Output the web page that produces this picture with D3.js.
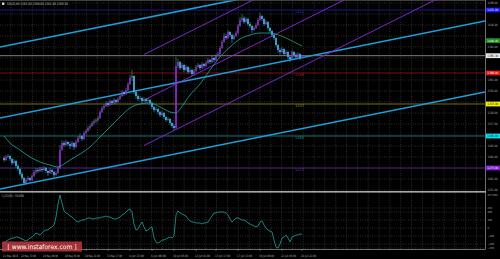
<!DOCTYPE html>
<html>
<head>
<meta charset="utf-8">
<script src="https://cdn.jsdelivr.net/npm/d3@7"></script>
<style>
  html, body { margin: 0; padding: 0; background: #000; }
  svg { display: block; font-family: "DejaVu Sans Condensed", "DejaVu Sans", sans-serif; }
</style>
</head>
<body>
<svg id="chart" width="500" height="259"></svg>
<script>
// H4 candles, [open, high, low, close]
const candles = [
  [1283,1285,1279,1281],[1281,1286,1280,1284],[1284,1287,1283,1285],[1285,1286,1280,1282],[1282,1283,1276,1278],
  [1278,1282,1277,1280],[1280,1281,1273,1275],[1275,1277,1270,1272],[1272,1273,1265,1267],[1267,1269,1261,1263],
  [1263,1264,1256,1258],[1258,1263,1257,1261],[1261,1265,1260,1263],[1263,1264,1259,1261],[1261,1267,1260,1265],
  [1265,1271,1264,1269],[1269,1273,1267,1271],[1271,1273,1268,1270],[1270,1274,1269,1272],[1272,1274,1269,1271],
  [1271,1275,1270,1273],[1273,1274,1268,1270],[1270,1271,1265,1268],[1268,1273,1267,1271],[1271,1272,1267,1269],
  [1269,1270,1264,1266],[1266,1270,1265,1268],[1268,1275,1267,1273],[1273,1296,1272,1291],[1291,1301,1290,1298],
  [1298,1300,1294,1296],[1296,1301,1295,1299],[1299,1300,1295,1297],[1297,1299,1292,1295],[1295,1300,1294,1298],
  [1298,1299,1291,1294],[1294,1301,1293,1299],[1299,1305,1298,1303],[1303,1308,1302,1305],[1305,1306,1300,1302],
  [1302,1310,1301,1308],[1308,1312,1306,1310],[1310,1315,1309,1313],[1313,1317,1311,1315],[1315,1320,1314,1318],
  [1318,1322,1316,1320],[1320,1323,1318,1321],[1321,1325,1319,1323],[1323,1331,1322,1329],[1329,1335,1328,1333],
  [1333,1337,1331,1335],[1335,1340,1334,1338],[1338,1339,1334,1336],[1336,1342,1335,1340],[1340,1341,1336,1338],
  [1338,1343,1337,1341],[1341,1342,1337,1339],[1339,1344,1338,1342],[1342,1347,1341,1345],[1345,1351,1344,1349],
  [1349,1350,1345,1347],[1347,1353,1346,1351],[1351,1359,1350,1357],[1357,1366,1356,1363],[1363,1371,1360,1365],
  [1365,1366,1347,1349],[1349,1351,1342,1345],[1345,1347,1340,1342],[1342,1345,1341,1343],[1343,1344,1338,1340],
  [1340,1344,1339,1342],[1342,1343,1338,1340],[1340,1343,1339,1341],[1341,1342,1336,1338],[1338,1339,1332,1334],
  [1334,1335,1329,1331],[1331,1334,1330,1332],[1332,1333,1327,1329],[1329,1330,1324,1326],[1326,1330,1325,1328],
  [1328,1329,1322,1324],[1324,1325,1319,1321],[1321,1324,1320,1322],[1322,1323,1316,1318],[1318,1319,1313,1315],
  [1315,1317,1311,1313],[1313,1384,1312,1375],[1375,1382,1373,1379],[1379,1380,1371,1373],[1373,1378,1372,1376],
  [1376,1377,1369,1371],[1371,1376,1370,1374],[1374,1375,1367,1369],[1369,1373,1368,1371],[1371,1372,1365,1367],
  [1367,1372,1366,1370],[1370,1376,1369,1374],[1374,1378,1373,1376],[1376,1377,1371,1373],[1373,1379,1372,1377],
  [1377,1378,1373,1375],[1375,1380,1374,1378],[1378,1383,1377,1381],[1381,1382,1377,1379],[1379,1385,1378,1383],
  [1383,1384,1379,1381],[1381,1387,1380,1385],[1385,1389,1384,1387],[1387,1395,1386,1393],[1393,1401,1392,1399],
  [1399,1408,1398,1405],[1405,1407,1401,1403],[1403,1411,1402,1409],[1409,1410,1404,1406],[1406,1407,1398,1402],
  [1402,1407,1401,1405],[1405,1410,1404,1408],[1408,1417,1407,1415],[1415,1424,1414,1421],[1421,1427,1419,1423],
  [1423,1425,1417,1419],[1419,1424,1418,1422],[1422,1423,1415,1417],[1417,1419,1413,1415],[1415,1416,1408,1411],
  [1411,1415,1410,1413],[1413,1418,1412,1416],[1416,1423,1415,1421],[1421,1428,1420,1425],[1425,1426,1420,1422],
  [1422,1423,1415,1417],[1417,1421,1416,1419],[1419,1420,1411,1413],[1413,1414,1408,1410],[1410,1411,1404,1406],
  [1406,1407,1401,1403],[1403,1404,1394,1396],[1396,1397,1388,1391],[1391,1393,1386,1389],[1389,1394,1388,1392],
  [1392,1393,1385,1387],[1387,1391,1386,1389],[1389,1390,1382,1384],[1384,1386,1379,1382],[1382,1391,1381,1389],
  [1389,1390,1384,1386],[1386,1388,1383,1384],[1384,1389,1383,1387],[1387,1388,1381,1383],[1383,1386,1382,1385.3]
];

// CCI(30), one value per candle
const cciValues = [
  -196,-163,-150,-138,-125,-125,-113,-113,-125,-138,-150,-163,-150,-125,-113,-88,-63,-75,-88,-63,
  -38,-25,-25,0,13,38,138,300,412,313,213,188,175,150,138,113,88,75,88,100,
  100,113,125,125,113,113,125,125,125,138,138,150,138,138,125,113,113,125,138,163,
  175,200,225,238,200,50,-25,-13,38,75,13,-38,-25,0,13,-125,-175,-188,-175,-150,
  -150,-138,-125,-113,-125,-100,163,213,188,175,163,150,113,88,75,75,63,63,63,50,
  63,63,75,113,150,188,188,200,200,200,200,188,163,113,75,100,125,125,113,100,
  100,88,63,50,38,25,13,25,75,88,38,0,-25,-38,-50,-150,-238,-250,-200,-125,
  -113,-88,-125,-175,-113,-100,-88,-88,-75,-78.83
];

// moving average read at these candle indices
const maIndex = [0,3,8,13,18,23,27,30,33,38,43,48,53,58,63,68,73,78,83,86,88,93,98,103,108,113,118,123,128,133,136,141,146,149];
const maValues = [1305,1298,1291,1284,1279,1276,1274,1277,1281,1287,1294,1304,1314,1324,1333,1337,1338,1334,1329,1328,1332,1346,1357,1371,1384,1394,1402,1406,1408,1408,1407,1403,1398,1395];
const maColorSwitch = 136;

// trend channels: [index1, price1, index2, price2]
const cyanChannel = [[0,1394.8,100,1434.8],[0,1323.8,100,1363.8],[0,1252.8,100,1292.8]];
const violetChannel = [[70,1386.5,120,1436.5],[71,1342,121,1392],[70,1295.5,120,1345.5]];

// horizontal levels
const levelPrices = [1431, 1368, 1337, 1305, 1273];
const bidPrice = 1385.3;
const markerPrice = 1400.4;

const priceTicks = d3.range(1251, 1441, 11);
const cciTicks = [250, 200, 100, 0, -100, -200, -250];

const timeLabelBars = [0, 9, 20, 31, 41, 52, 63, 74, 85, 96, 106, 117, 128, 139, 149];
const timeLabels = ["21 May 2019", "22 May 13:00", "24 May 09:00", "28 May 05:00", "29 May 21:00",
  "31 May 17:00", "4 Jun 13:00", "6 Jun 09:00", "10 Jun 05:00", "12 Jun 01:00", "13 Jun 17:00",
  "17 Jun 13:00", "19 Jun 09:00", "21 Jun 05:00", "24 Jun 21:00"];

// ---- layout / styles ----
const plotRight = 485;
const mainBottom = 191;
const subTop = 193, subBottom = 249;

const levelLine = ["#1c1ca0", "#8a1212", "#7a7a14", "#177878", "#55208a"];
const levelText = ["#3030d8", "#b81c1c", "#a0a024", "#2aa0a0", "#8030c0"];
const levelBox  = ["#1616ff", "#e01414", "#f2f200", "#00e6ee", "#7a1ed2"];
const levelBoxText = ["#fff", "#fff", "#000", "#000", "#fff"];

const svg = d3.select("#chart");

const x = d3.scaleLinear().domain([-2, 240.5]).range([0, plotRight]);
const y = d3.scaleLinear().domain([1250, 1441]).range([mainBottom, 0]);
const yc = d3.scaleLinear().domain([-262.5, 437.5]).range([subBottom, subTop]);

const defs = svg.append("defs");
defs.append("clipPath").attr("id", "clipMain")
  .append("rect").attr("x", 0).attr("y", 0).attr("width", plotRight).attr("height", mainBottom);
defs.append("clipPath").attr("id", "clipSub")
  .append("rect").attr("x", 0).attr("y", subTop).attr("width", plotRight).attr("height", subBottom - subTop);

svg.append("rect").attr("width", 500).attr("height", 259).attr("fill", "#000");

// grid
const grid = svg.append("g")
  .attr("stroke", "#4c4c4c")
  .attr("stroke-width", 0.6)
  .attr("stroke-dasharray", "1,1.4");

d3.range(10.83, plotRight, 10.83).forEach(gx => {
  grid.append("line").attr("x1", gx).attr("x2", gx).attr("y1", 0).attr("y2", mainBottom);
  grid.append("line").attr("x1", gx).attr("x2", gx).attr("y1", subTop).attr("y2", subBottom);
});
priceTicks.forEach(p => {
  grid.append("line").attr("x1", 0).attr("x2", plotRight).attr("y1", y(p)).attr("y2", y(p));
});
cciTicks.forEach(v => {
  grid.append("line").attr("x1", 0).attr("x2", plotRight).attr("y1", yc(v)).attr("y2", yc(v));
});

const main = svg.append("g").attr("clip-path", "url(#clipMain)");

// horizontal levels
levelPrices.forEach((p, k) => {
  main.append("line")
    .attr("x1", 0).attr("x2", plotRight)
    .attr("y1", y(p)).attr("y2", y(p))
    .attr("stroke", levelLine[k]).attr("stroke-width", 0.9);
  main.append("text")
    .attr("x", x(145.5)).attr("y", y(p) + 3.4)
    .attr("font-size", 3.4)
    .attr("textLength", 9).attr("lengthAdjust", "spacingAndGlyphs")
    .attr("fill", levelText[k])
    .text(d3.format(".0f")(p));
});
main.append("line")
  .attr("x1", 0).attr("x2", plotRight)
  .attr("y1", y(bidPrice)).attr("y2", y(bidPrice))
  .attr("stroke", "#8c8c8c").attr("stroke-width", 0.9);

// channels
function priceAt(l, i) {
  return l[1] + (l[3] - l[1]) * (i - l[0]) / (l[2] - l[0]);
}
const [i0, i1] = x.domain();
cyanChannel.forEach(l => {
  main.append("line")
    .attr("x1", x(i0)).attr("y1", y(priceAt(l, i0)))
    .attr("x2", x(i1)).attr("y2", y(priceAt(l, i1)))
    .attr("stroke", "#1e9ed8").attr("stroke-width", 1.7);
});
violetChannel.forEach(l => {
  main.append("line")
    .attr("x1", x(l[0])).attr("y1", y(l[1]))
    .attr("x2", x(i1)).attr("y2", y(priceAt(l, i1)))
    .attr("stroke", "#8a2be2").attr("stroke-width", 0.9);
});

// candles
const cg = main.append("g");
candles.forEach((d, i) => {
  const [o, h, l, c] = d;
  const up = c >= o;
  cg.append("line")
    .attr("x1", x(i)).attr("x2", x(i))
    .attr("y1", y(h)).attr("y2", y(l))
    .attr("stroke", up ? "#34b25a" : "#3aa8d6")
    .attr("stroke-width", 0.6);
  const top = y(Math.max(o, c)), bot = y(Math.min(o, c));
  cg.append("rect")
    .attr("x", x(i) - 0.8).attr("width", 1.6)
    .attr("y", top).attr("height", Math.max(0.8, bot - top))
    .attr("fill", up ? "#9a22dc" : "#3fbbe8");
});

// moving average
const maPts = maIndex.map((b, k) => [b, maValues[k]]);
const maLine = d3.line().x(d => x(d[0])).y(d => y(d[1])).curve(d3.curveMonotoneX);
main.append("path")
  .datum(maPts.filter(d => d[0] <= maColorSwitch))
  .attr("d", maLine).attr("fill", "none")
  .attr("stroke", "#20aaa4").attr("stroke-width", 0.8);
main.append("path")
  .datum(maPts.filter(d => d[0] >= maColorSwitch))
  .attr("d", maLine).attr("fill", "none")
  .attr("stroke", "#34a04c").attr("stroke-width", 0.8);

// CCI
svg.append("g").attr("clip-path", "url(#clipSub)")
  .append("path")
  .datum(cciValues)
  .attr("d", d3.line().x((d, i) => x(i)).y(d => yc(d)))
  .attr("fill", "none")
  .attr("stroke", "#1fa39c")
  .attr("stroke-width", 0.8);

// frame
const frame = svg.append("g").attr("stroke", "#8a8a8a").attr("stroke-width", 0.8);
frame.append("line").attr("x1", 0).attr("x2", plotRight).attr("y1", 0.4).attr("y2", 0.4).attr("stroke", "#5a5a5a");
frame.append("line").attr("x1", plotRight + 0.5).attr("x2", plotRight + 0.5).attr("y1", 0).attr("y2", subBottom);
frame.append("line").attr("x1", 0).attr("x2", plotRight + 0.5).attr("y1", subBottom + 0.5).attr("y2", subBottom + 0.5);
svg.append("rect").attr("x", 0).attr("y", mainBottom).attr("width", plotRight + 1).attr("height", 1.6).attr("fill", "#a8a8a8");

// right axis labels (tick labels hidden under a price box are skipped)
const boxPrices = levelPrices.concat([markerPrice, bidPrice]);
const axisText = svg.append("g").attr("fill", "#b4b4b4").attr("font-size", 3.1);
priceTicks
  .filter(p => boxPrices.every(b => Math.abs(y(b) - y(p)) > 4.6))
  .forEach(p => {
    axisText.append("text").attr("x", 487.5).attr("y", y(p) + 1.1)
      .attr("textLength", 10).attr("lengthAdjust", "spacingAndGlyphs")
      .text(d3.format(".2f")(p));
  });
cciTicks.forEach(v => {
  axisText.append("text").attr("x", 487.5).attr("y", yc(v) + 1.1)
    .attr("font-size", 2.7)
    .text(d3.format("d")(v));
});
axisText.append("text").attr("x", 487.5).attr("y", subTop + 2.8)
  .attr("font-size", 2.7)
  .attr("textLength", 10).attr("lengthAdjust", "spacingAndGlyphs")
  .text(d3.format(".4f")(yc.domain()[1]));

function priceBox(p, fill, color) {
  const g = svg.append("g").attr("transform", `translate(486,${y(p)})`);
  g.append("rect").attr("x", 0).attr("y", -2.4).attr("width", 14).attr("height", 4.8).attr("fill", fill);
  g.append("text").attr("x", 1.3).attr("y", 1.2).attr("font-size", 3.1)
    .attr("textLength", 11).attr("lengthAdjust", "spacingAndGlyphs")
    .attr("fill", color).text(d3.format(".2f")(p));
}
levelPrices.forEach((p, k) => priceBox(p, levelBox[k], levelBoxText[k]));
priceBox(markerPrice, "#1a8a1a", "#fff");
priceBox(bidPrice, "#efefef", "#000");

// time axis
const timeText = svg.append("g").attr("fill", "#b4b4b4").attr("font-size", 3.2);
timeLabelBars.forEach((b, k) => {
  const tx = Math.max(1, x(b) - 1);
  svg.append("line").attr("x1", x(b)).attr("x2", x(b)).attr("y1", subBottom).attr("y2", subBottom + 2)
    .attr("stroke", "#8a8a8a").attr("stroke-width", 0.6);
  timeText.append("text").attr("x", tx).attr("y", 257)
    .attr("textLength", 15).attr("lengthAdjust", "spacingAndGlyphs")
    .text(timeLabels[k]);
});

// titles
const last = candles[candles.length - 1];
svg.append("rect").attr("x", 2).attr("y", 2.5).attr("width", 2.4).attr("height", 2.4).attr("fill", "#ddd");
svg.append("text").attr("x", 7).attr("y", 5.3).attr("font-size", 3.4).attr("fill", "#c8c8c8")
  .attr("textLength", 61).attr("lengthAdjust", "spacingAndGlyphs")
  .text("GOLD,H4  " + last.map(v => d3.format(".2f")(v)).join(" "));
svg.append("text").attr("x", 2).attr("y", subTop + 4).attr("font-size", 3.4).attr("fill", "#c8c8c8")
  .attr("textLength", 22).attr("lengthAdjust", "spacingAndGlyphs")
  .text("3_CCI(30) " + d3.format(".4f")(cciValues[cciValues.length - 1]));

// watermark
const wm = svg.append("g");
wm.append("rect").attr("x", 2).attr("y", 241.5).attr("width", 80).attr("height", 10)
  .attr("fill", "#c43a40").attr("opacity", 0.82);
wm.append("text").attr("x", 42).attr("y", 248.8).attr("text-anchor", "middle")
  .attr("font-size", 6.4).attr("fill", "#fff")
  .attr("textLength", 69).attr("lengthAdjust", "spacingAndGlyphs")
  .text("[ www.instaforex.com ]");
</script>
</body>
</html>
